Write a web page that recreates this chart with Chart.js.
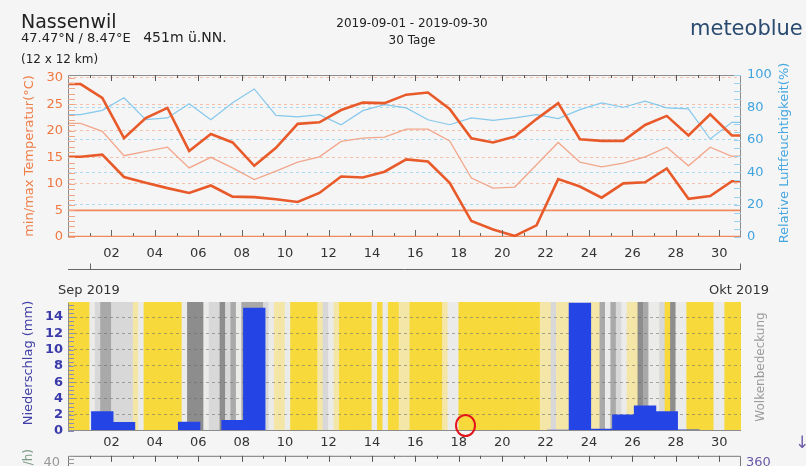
<!DOCTYPE html>
<html lang="de">
<head>
<meta charset="utf-8">
<title>Nassenwil - September 2019</title>
<script src="https://cdn.jsdelivr.net/npm/chart.js@4.4.1/dist/chart.umd.min.js"></script>
<style>
    body { margin: 0; background: #f5f5f5; font-family: "DejaVu Sans", sans-serif; }
    #page { position: relative; width: 806px; height: 466px; overflow: hidden; background: #f5f5f5; }
    canvas { position: absolute; left: 0; }
    .txt { position: absolute; white-space: nowrap; line-height: 1; color: #222; }
    .rot { position: absolute; white-space: nowrap; line-height: 1; transform: translate(-50%, -50%) rotate(-90deg); }
    #mark { position: absolute; left: 455px; top: 414px; width: 17px; height: 19px; border: 2.5px solid #e3141b; border-radius: 50%; }
</style>
</head>
<body>
<div id="page">
    <canvas id="topChart" width="806" height="275" style="top:0"></canvas>
    <canvas id="cloudChart" width="806" height="170" style="top:290px"></canvas>
    <canvas id="precipChart" width="806" height="170" style="top:290px"></canvas>
    <canvas id="windChart" width="806" height="100" style="top:440px"></canvas>

    <div class="txt" style="left:21px; top:12px; font-size:19px;">Nassenwil</div>
    <div class="txt" style="left:21px; top:30px; font-size:13px;">47.47°N / 8.47°E &nbsp; <span style="font-size:14px">451m ü.NN.</span></div>
    <div class="txt" style="left:21px; top:53px; font-size:12px;">(12 x 12 km)</div>
    <div class="txt" style="left:412px; top:17px; font-size:12px; transform:translateX(-50%);">2019-09-01 - 2019-09-30</div>
    <div class="txt" style="left:412px; top:34px; font-size:12px; transform:translateX(-50%);">30 Tage</div>
    <div class="txt" style="left:690px; top:18px; font-size:21px; color:#2b4a70;">meteoblue</div>

    <div class="rot" style="left:28px; top:156px; font-size:13px; color:#ef7d48;">min/max Temperatur(°C)</div>
    <div class="rot" style="left:783px; top:153px; font-size:13px; color:#45a6e0;">Relative Luftfeuchtigkeit(%)</div>
    <div class="rot" style="left:27px; top:363px; font-size:13px; color:#4040a8;">Niederschlag (mm)</div>
    <div class="rot" style="left:760px; top:367px; font-size:12px; color:#9a9a9a;">Wolkenbedeckung</div>
    <div class="txt" style="left:22px; top:449px; font-size:12px; color:#7a9a86; transform-origin:0 0; transform:rotate(-90deg) translateX(-100%);">Windgeschwindigkeit (km/h)</div>

    <div class="txt" style="left:58px; top:283px; font-size:13px; color:#333;">Sep 2019</div>
    <div class="txt" style="left:709px; top:283px; font-size:13px; color:#333;">Okt 2019</div>
    <div class="txt" style="left:795px; top:434px; font-size:17px; color:#6b5aa8;">↓</div>
    <div id="mark"></div>
</div>

<script>
// Days shown: 2019-08-31 ... 2019-09-30 (index 0 = Aug 31)
const maxTemp = [28.8, 26.2, 18.6, 22.4, 24.3, 16.2, 19.4, 17.8, 13.4, 16.8, 21.3, 21.6, 23.9, 25.3, 25.2, 26.8,
    27.2, 24.1, 18.6, 17.8, 18.9, 22.2, 25.2, 18.4, 18.1, 18.1, 21.1, 22.8, 19.1, 23.1, 19.1];
const meanTemp = [21.4, 19.9, 15.3, 16.1, 16.9, 13.0, 15.0, 13.0, 10.8, 12.4, 14.1, 15.1, 18.0, 18.6, 18.8, 20.3,
    20.3, 18.1, 11.1, 9.2, 9.4, 13.6, 17.8, 14.1, 13.2, 13.9, 15.1, 16.9, 13.4, 16.9, 15.2];
const minTemp = [15.1, 15.5, 11.3, 10.2, 9.2, 8.3, 9.7, 7.6, 7.5, 7.1, 6.6, 8.3, 11.4, 11.2, 12.3, 14.6,
    14.2, 10.2, 3.0, 1.4, 0.2, 2.2, 10.9, 9.5, 7.4, 10.1, 10.3, 12.9, 7.2, 7.7, 10.5];
const humidity = [75.5, 78.2, 85.9, 72.4, 73.5, 82.2, 72.4, 82.8, 91.4, 75.1, 74.1, 75.5, 69.3, 78.0, 81.7, 79.7,
    72.4, 69.3, 73.5, 72.0, 73.5, 75.5, 73.1, 78.6, 82.8, 80.1, 83.8, 79.7, 79.1, 60.5, 70.8];
const precipitation = [0, 2.4, 1.05, 0, 0, 1.1, 0, 1.3, 15.1, 0, 0, 0, 0, 0, 0, 0,
    0, 0, 0, 0, 0, 0, 0.1, 20, 0.25, 2.0, 3.1, 2.4, 0.15, 0, 0];
// cloud cover in %, four values per day (6 hour steps)
const cloudCover = [
    5, 5, 5, 5,     50, 65, 85, 85,   65, 65, 65, 65,   30, 50, 5, 5,
    5, 5, 5, 5,     5, 50, 95, 95,    95, 50, 65, 65,   95, 65, 85, 50,
    85, 85, 85, 85, 65, 50, 30, 30,   50, 5, 5, 5,      5, 5, 30, 65,
    50, 30, 5, 5,   5, 5, 5, 5,       50, 5, 50, 5,     5, 30, 30, 5,
    5, 5, 5, 5,     5, 30, 50, 50,    5, 5, 5, 5,       5, 5, 5, 5,
    5, 5, 5, 5,     5, 5, 5, 30,      30, 65, 30, 30,   30, 50, 50, 50,
    30, 30, 85, 50, 85, 65, 50, 30,   30, 95, 85, 50,   50, 65, 5, 95,
    50, 50, 5, 5,   5, 5, 5, 50,      50, 5, 5, 5
];
const tempRefLines = [0, 5];
const tempTicks = { min: 0, max: 30.5, step: 5 };
const humidityTicks = { min: 0, max: 100, step: 20 };
const precipTicks = { min: 0, max: 15.75, step: 2 };

const X_MIN = 0;          // 2019-08-31 00:00
const X_MAX = 31;         // 2019-10-01 00:00
const DAY_POS = 0.58;     // daily values sit in the afternoon of their day
const monthStarts = [1, 31];

Chart.defaults.font.family = '"DejaVu Sans", sans-serif';
Chart.defaults.font.size = 13;

function dailySeries(values) {
    const pts = values.map((v, i) => ({ x: i + DAY_POS, y: v }));
    return [{ x: X_MIN, y: values[0] }, ...pts, { x: X_MAX, y: values[values.length - 1] }];
}

function dayLabel(v) {
    return (v > 0 && v < 31 && v % 2 === 0) ? String(v).padStart(2, '0') : '';
}

function cloudColor(c) {
    if (c < 20) return '#f7d93c';
    if (c < 40) return '#f4e6a6';
    if (c < 60) return '#ebebe9';
    if (c < 75) return '#d8d8d8';
    if (c < 90) return '#a9a9a9';
    return '#8d8d8d';
}

function drawValueTicks(ctx, scale, from, to, step, x0, len, color) {
    ctx.strokeStyle = color;
    ctx.beginPath();
    for (let v = from; v <= to + 1e-9; v += step) {
        const y = Math.round(scale.getPixelForValue(v)) + 0.5;
        ctx.moveTo(x0, y);
        ctx.lineTo(x0 + len, y);
    }
    ctx.stroke();
}

function drawDayTicks(ctx, xScale, y, dir, color) {
    ctx.strokeStyle = color;
    ctx.beginPath();
    for (let t = X_MIN + 1; t < X_MAX; t++) {
        const x = Math.round(xScale.getPixelForValue(t)) + 0.5;
        const len = t % 2 === 0 ? 6 : 3;
        ctx.moveTo(x, y);
        ctx.lineTo(x, y + dir * len);
    }
    ctx.stroke();
}

const xAxis = (height, padding) => ({
    type: 'linear',
    min: X_MIN,
    max: X_MAX,
    offset: false,
    afterFit: s => { s.height = height; },
    grid: { display: false, drawTicks: false },
    border: { display: false },
    ticks: { stepSize: 1, autoSkip: false, maxRotation: 0, padding: padding, color: '#333', callback: dayLabel }
});

// Temperature + humidity
const topFrame = {
    id: 'topFrame',
    afterDatasetsDraw(chart) {
        const { ctx, chartArea: a, scales: { x, yT, yH } } = chart;
        ctx.save();
        ctx.lineWidth = 1;
        ctx.strokeStyle = '#8c8c8c';
        ctx.beginPath();
        ctx.moveTo(a.left + 0.5, a.bottom);
        ctx.lineTo(a.left + 0.5, a.top + 0.5);
        ctx.lineTo(a.right - 0.5, a.top + 0.5);
        ctx.lineTo(a.right - 0.5, a.bottom);
        ctx.stroke();
        drawDayTicks(ctx, x, a.top, 1, '#555');
        drawDayTicks(ctx, x, a.bottom - 1, -1, '#666');
        drawValueTicks(ctx, yT, 0, 30, 1, a.left, 7, '#eea685');
        drawValueTicks(ctx, yH, 0, 100, 5, a.right - 7, 7, '#9dcfee');

        // month axis
        const my = a.bottom + 32.5;
        ctx.strokeStyle = '#666';
        ctx.beginPath();
        ctx.moveTo(a.left, my);
        ctx.lineTo(a.right, my);
        monthStarts.forEach(t => {
            const px = Math.min(Math.round(x.getPixelForValue(t)), a.right - 1) + 0.5;
            ctx.moveTo(px, my);
            ctx.lineTo(px, my - 6);
        });
        ctx.stroke();
        ctx.restore();
    }
};

new Chart(document.getElementById('topChart'), {
    type: 'line',
    data: {
        datasets: [
            { data: dailySeries(maxTemp), yAxisID: 'yT', borderColor: '#e85a2a', borderWidth: 2.6 },
            { data: dailySeries(minTemp), yAxisID: 'yT', borderColor: '#e85a2a', borderWidth: 2.6 },
            { data: dailySeries(meanTemp), yAxisID: 'yT', borderColor: '#f2a68c', borderWidth: 1.3 },
            { data: dailySeries(humidity), yAxisID: 'yH', borderColor: '#86c8ec', borderWidth: 1.2 },
            ...tempRefLines.map(v => ({
                data: [{ x: X_MIN, y: v }, { x: X_MAX, y: v }],
                yAxisID: 'yT',
                borderColor: '#f08a5d',
                borderWidth: v === 0 ? 2.5 : 1.8
            }))
        ]
    },
    options: {
        responsive: false,
        animation: false,
        layout: { padding: { top: 75, left: 0, right: 0, bottom: 0 } },
        elements: { point: { radius: 0 }, line: { tension: 0 } },
        plugins: { legend: { display: false }, tooltip: { enabled: false } },
        scales: {
            x: xAxis(38, 9),
            yT: {
                position: 'left',
                min: tempTicks.min,
                max: tempTicks.max,
                afterFit: s => { s.width = 68; },
                border: { display: false, dash: [3, 3] },
                grid: { color: c => c.tick.value > 0 ? '#f6c1aa' : 'transparent', drawTicks: false },
                ticks: { stepSize: tempTicks.step, includeBounds: false, autoSkip: false, padding: 5, color: '#f07840' }
            },
            yH: {
                position: 'right',
                min: humidityTicks.min,
                max: humidityTicks.max,
                afterFit: s => { s.width = 65; },
                border: { display: false, dash: [3, 3] },
                grid: { color: c => c.tick.value > 0 && c.tick.value < 100 ? '#a9d8f2' : 'transparent', drawTicks: false },
                ticks: { stepSize: humidityTicks.step, autoSkip: false, padding: 6, color: '#3fa3e0' }
            }
        }
    },
    plugins: [topFrame]
});

// Cloud cover background
new Chart(document.getElementById('cloudChart'), {
    type: 'bar',
    data: {
        datasets: [{
            data: cloudCover.map((c, k) => ({ x: X_MIN + (k + 0.5) / 4, y: 1 })),
            backgroundColor: cloudCover.map(cloudColor),
            borderWidth: 0,
            barPercentage: 1,
            categoryPercentage: 1
        }]
    },
    options: {
        responsive: false,
        animation: false,
        layout: { padding: { top: 12, left: 68, right: 65, bottom: 29 } },
        plugins: { legend: { display: false }, tooltip: { enabled: false } },
        scales: {
            x: { type: 'linear', min: X_MIN, max: X_MAX, offset: false, display: false, ticks: { stepSize: 1 } },
            y: { min: 0, max: 1, display: false }
        }
    }
});

// Precipitation
const precipFrame = {
    id: 'precipFrame',
    afterDatasetsDraw(chart) {
        const { ctx, chartArea: a, scales: { yP } } = chart;
        ctx.save();
        ctx.lineWidth = 1;
        drawValueTicks(ctx, yP, 0, 15.5, 0.5, a.left, 6, '#8a8ac0');
        ctx.strokeStyle = '#8c8c8c';
        ctx.beginPath();
        ctx.moveTo(a.left + 0.5, a.top);
        ctx.lineTo(a.left + 0.5, a.bottom - 0.5);
        ctx.lineTo(a.right, a.bottom - 0.5);
        ctx.stroke();
        ctx.restore();
    }
};

new Chart(document.getElementById('precipChart'), {
    type: 'bar',
    data: {
        datasets: [{
            data: precipitation.map((p, i) => ({ x: i + DAY_POS, y: p > 0 ? p : null })),
            yAxisID: 'yP',
            backgroundColor: '#2544e6',
            borderWidth: 0,
            barPercentage: 1,
            categoryPercentage: 1,
            clip: 0
        }]
    },
    options: {
        responsive: false,
        animation: false,
        layout: { padding: { top: 12, left: 0, right: 65, bottom: 0 } },
        plugins: { legend: { display: false }, tooltip: { enabled: false } },
        scales: {
            x: xAxis(29, 4),
            yP: {
                position: 'left',
                min: precipTicks.min,
                max: precipTicks.max,
                afterFit: s => { s.width = 68; },
                border: { display: false, dash: [3, 3] },
                grid: { color: c => c.tick.value > 0 ? 'rgba(105,105,105,0.55)' : 'transparent', drawTicks: false },
                ticks: { stepSize: precipTicks.step, includeBounds: false, autoSkip: false, padding: 5, color: '#3a3aaa', font: { weight: 'bold' } }
            }
        }
    },
    plugins: [precipFrame]
});

// Wind panel (only its top edge is inside the picture)
const windFrame = {
    id: 'windFrame',
    afterDatasetsDraw(chart) {
        const { ctx, chartArea: a, scales: { x, yW } } = chart;
        ctx.save();
        ctx.lineWidth = 1;
        ctx.strokeStyle = '#777';
        ctx.beginPath();
        ctx.moveTo(a.left + 0.5, a.bottom);
        ctx.lineTo(a.left + 0.5, a.top + 0.5);
        ctx.lineTo(a.right - 0.5, a.top + 0.5);
        ctx.lineTo(a.right - 0.5, a.bottom);
        ctx.stroke();
        drawDayTicks(ctx, x, a.top, 1, '#555');
        drawValueTicks(ctx, yW, 20, 40, 2, a.left, 6, '#999');
        ctx.restore();
    }
};

new Chart(document.getElementById('windChart'), {
    type: 'line',
    data: { datasets: [] },
    options: {
        responsive: false,
        animation: false,
        layout: { padding: { top: 14, left: 0, right: 0, bottom: 0 } },
        plugins: { legend: { display: false }, tooltip: { enabled: false } },
        scales: {
            x: { type: 'linear', min: X_MIN, max: X_MAX, display: false },
            yW: {
                position: 'left', min: 0, max: 40,
                afterFit: s => { s.width = 68; },
                grid: { display: false, drawTicks: false }, border: { display: false },
                ticks: { stepSize: 10, labelOffset: 7, padding: 8, color: '#999' }
            },
            yD: {
                position: 'right', min: 0, max: 360,
                afterFit: s => { s.width = 65; },
                grid: { display: false, drawTicks: false }, border: { display: false },
                ticks: { stepSize: 90, labelOffset: 7, padding: 5, color: '#6b5aa8' }
            }
        }
    },
    plugins: [windFrame]
});
</script>
</body>
</html>
